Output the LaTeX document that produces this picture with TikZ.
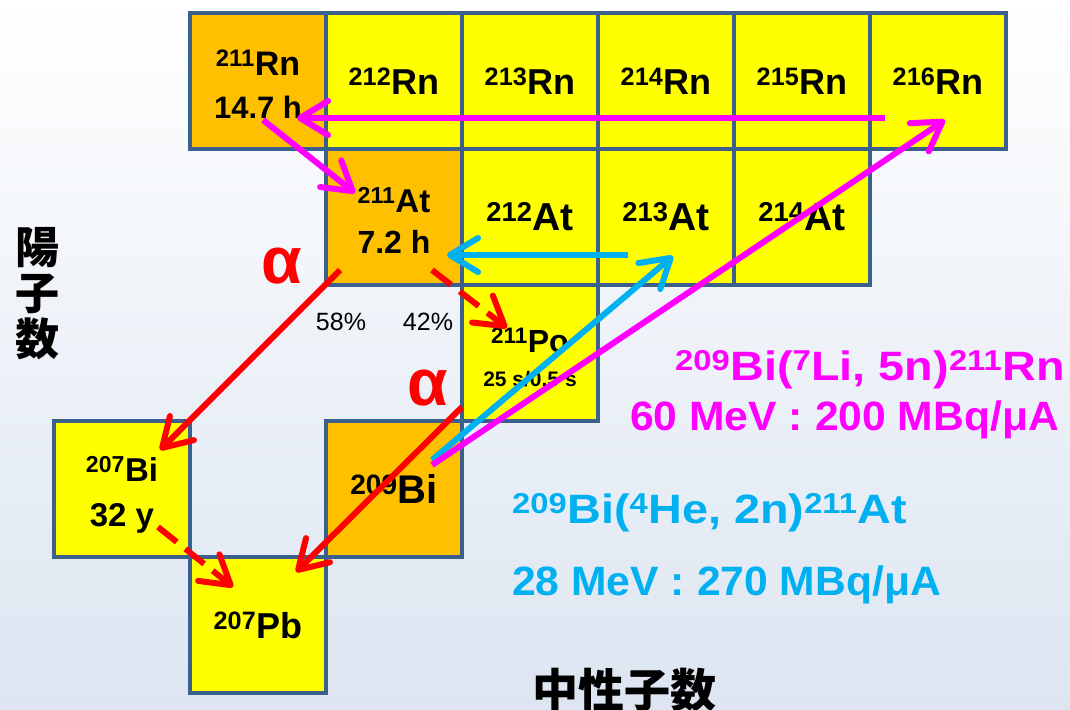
\documentclass[tikz,border=0pt]{standalone}
\usepackage{fontspec}
\setmainfont{Liberation Sans}
\newfontfamily\jpfont{Noto Sans CJK JP}
\usetikzlibrary{arrows.meta,calc}
\definecolor{cellor}{RGB}{255,192,0}
\definecolor{cellye}{RGB}{255,255,0}
\definecolor{cellbd}{RGB}{60,96,140}
\definecolor{mag}{RGB}{255,0,255}
\definecolor{cya}{RGB}{0,176,240}
\definecolor{bgb}{RGB}{220,229,241}
\newcommand\nucl[2]{\textsuperscript{#1}#2}
\newcommand\fs[1]{\fontsize{#1}{1.2\dimexpr#1pt\relax}\selectfont}
\begin{document}
\begin{tikzpicture}[x=1pt,y=-1pt,
  cell/.style={draw=cellbd, line width=4pt, minimum width=136pt, minimum height=136pt,
    inner sep=0pt, outer sep=0pt, font=\bfseries, align=center},
  orcell/.style={cell, fill=cellor},
  yecell/.style={cell, fill=cellye},
  celltext/.style={inner sep=0pt, align=center},
  arr/.style={line width=6pt, -{Straight Barb[length=28pt, width=34pt, round]}},
  darr/.style={arr, dash pattern=on 24pt off 11pt},
  alab/.style={text=red, font=\bfseries\fontsize{66}{70}\selectfont},
  pct/.style={font=\fontsize{25}{28}\selectfont},
  reac/.style={font=\bfseries\fontsize{41}{44}\selectfont, inner sep=0pt},
  jp/.style={font=\jpfont\bfseries\fontsize{44}{46}\selectfont, align=center, inner sep=0pt}
]
\useasboundingbox (0,0) rectangle (1070,709);
\shade[top color=white, bottom color=bgb] (0,0) rectangle (1070,709);

% Rn row
\node[orcell] (Rn211) at (258,81) {};
\node[yecell] (Rn212) at (394,81) {\fs{36}\nucl{212}{Rn}};
\node[yecell] (Rn213) at (530,81) {\fs{36}\nucl{213}{Rn}};
\node[yecell] (Rn214) at (666,81) {\fs{36}\nucl{214}{Rn}};
\node[yecell] (Rn215) at (802,81) {\fs{36}\nucl{215}{Rn}};
\node[yecell] (Rn216) at (938,81) {\fs{36}\nucl{216}{Rn}};
% At row
\node[orcell] (At211) at (394,217) {};
\node[yecell] (At212) at (530,217) {\fs{39}\nucl{212}{At}};
\node[yecell] (At213) at (666,217) {\fs{39}\nucl{213}{At}};
\node[yecell] (At214) at (802,217) {\fs{39}\nucl{214}{At}};
% Po
\node[yecell] (Po211) at (530,353) {};
% Bi
\node[yecell] (Bi207) at (122,489) {};
\node[orcell] (Bi209) at (394,489) {\fs{40}\nucl{209}{Bi}};
% Pb
\node[yecell] (Pb207) at (258,625) {\fs{36}\nucl{207}{Pb}};

% two-line cell texts
\node[celltext, font=\bfseries\fontsize{34}{43}\selectfont] (Rn211t) at (258,84) {\nucl{211}{Rn}\\ \fontsize{31}{43}\selectfont 14.7 h};
\node[celltext, font=\bfseries\fontsize{33}{41}\selectfont] (At211t) at (394,220) {\nucl{211}{At}\\ \fontsize{32}{41}\selectfont 7.2 h};
\node[celltext, font=\bfseries\fontsize{32}{34}\selectfont] (Po211t) at (530,357) {\nucl{211}{Po}\\ \fontsize{21}{34}\selectfont 25 s/0.5 s};
\node[celltext, font=\bfseries\fontsize{33}{45}\selectfont] (Bi207t) at (122,495) {\nucl{207}{Bi}\\ 32 y};

% labels
\node[alab] (al1) at (282,266) {α};
\node[alab] (al2) at (428,388) {α};
\node[pct] (p58) at (341,322) {58\%};
\node[pct] (p42) at (428,322) {42\%};

\node[reac, text=mag, anchor=base west] (r1) at (675,380) {\scalebox{1.14}[1]{\nucl{209}{Bi}(\textsuperscript{7}Li, 5n)\nucl{211}{Rn}}};
\node[reac, text=mag, anchor=base west] (r2) at (630,430) {\scalebox{1.04}[1]{60 MeV : 200 MBq/μA}};
\node[reac, text=cya, anchor=base west] (r3) at (512,523) {\scalebox{1.14}[1]{\nucl{209}{Bi}(\textsuperscript{4}He, 2n)\nucl{211}{At}}};
\node[reac, text=cya, anchor=base west] (r4) at (512,595) {\scalebox{1.04}[1]{28 MeV : 270 MBq/μA}};

\node[jp] (yoshi) at (37,294) {陽\\子\\数};
\node[jp, font=\jpfont\bfseries\fontsize{46}{48}\selectfont] (chusei) at (624,690) {中性子数};

% arrows
\draw[arr, red] ($(At211)+(-54,53)$) -- ($(Bi207)+(38,-39)$);
\draw[darr, red] ($(At211)+(38,53)$) -- ($(Po211)+(-23,-25)$);
\draw[arr, red] ($(Po211)+(-68,54)$) -- ($(Pb207)+(38,-53)$);
\draw[darr, red] ($(Bi207)+(36,38)$) -- ($(Pb207)+(-25,-38)$);
\draw[arr, cya] ($(Bi209)+(38,-29)$) -- ($(At213)+(7,39)$);
\draw[arr, cya] ($(At213)+(-38,38)$) -- ($(At211)+(53,38)$);
\draw[arr, mag] ($(Bi209)+(38,-24)$) -- ($(Rn216)+(7,39)$);
\draw[arr, mag] ($(Rn216)+(-53,37)$) -- ($(Rn211)+(39,37)$);
\draw[arr, mag] ($(Rn211)+(5,39)$) -- ($(At211)+(-39,-24)$);
\end{tikzpicture}
\end{document}
